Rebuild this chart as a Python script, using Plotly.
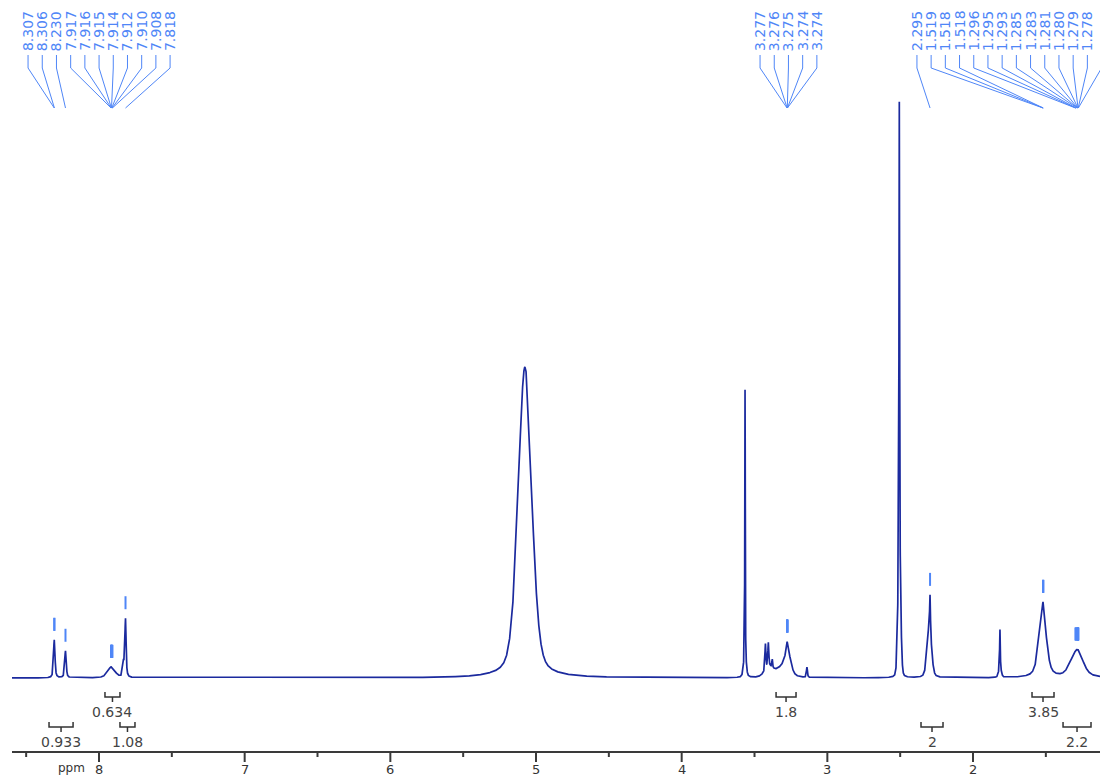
import numpy as np
import plotly.graph_objects as go

# ---- spectrum: resonance table (ppm, height, FWHM in ppm, Lorentzian fraction) ----
peak_ppm    = [8.307, 8.230, 7.915, 7.818, 7.832, 5.076, 3.565, 3.566, 3.425, 3.405,
               3.378, 3.400, 3.276, 3.272, 3.320, 3.140, 2.506, 2.506, 2.300, 2.295,
               1.815, 1.815, 1.522, 1.519, 1.282, 1.330]
peak_height = [38, 27, 11, 58, 14, 311, 270, 18, 26, 24,
               8, 10, 8, 25, 8, 10, 460, 116, 52, 34,
               38, 10, 68, 8, 27, 4]
peak_fwhm   = [0.012, 0.012, 0.060, 0.010, 0.012, 0.110, 0.004, 0.020, 0.008, 0.008,
               0.006, 0.070, 0.008, 0.050, 0.080, 0.008, 0.005, 0.022, 0.035, 0.006,
               0.005, 0.020, 0.060, 0.008, 0.090, 0.060]
peak_eta    = [0.6, 0.6, 0.5, 0.6, 0.5, 0.35, 0.5, 0.3, 0.5, 0.5,
               0.5, 0.3, 0.5, 0.5, 0.4, 0.5, 0.5, 0.1, 0.3, 0.5,
               0.5, 0.3, 0.5, 0.5, 0.6, 0.5]

# ---- picked peak labels, grouped as printed above the trace ----
pick_groups = [
    [8.307, 8.306, 8.230, 7.917, 7.916, 7.915, 7.914, 7.912, 7.910, 7.908, 7.818],
    [3.277, 3.276, 3.275, 3.274, 3.274],
    [2.295, 1.519, 1.518, 1.518, 1.296, 1.295, 1.293, 1.285, 1.283, 1.281,
     1.280, 1.279, 1.278, 1.277],
]
label_first_ppm = [8.487, 3.462, 2.385]
label_step_ppm = 0.0975

# ---- integrals ----
int_from  = [8.343, 7.959, 7.856, 3.352, 2.357, 1.595, 1.382]
int_to    = [8.178, 7.856, 7.753, 3.215, 2.206, 1.444, 1.190]
int_value = ["0.933", "0.634", "1.08", "1.8", "2", "3.85", "2.2"]
int_row   = [1, 0, 1, 0, 1, 0, 1]

# ---- ppm scale ----
x_left, x_right = 8.5972, 1.1283
major_ticks = [8, 7, 6, 5, 4, 3, 2]
minor_ticks = [8.5, 7.5, 6.5, 5.5, 4.5, 3.5, 2.5, 1.5]

TRACE = "#1b2a9e"
PICK = "#4f86f7"
INK = "#333333"
AXIS = "#3a3a3a"
FONT = "DejaVu Sans"


def pseudo_voigt(x, c, h, w, eta):
    d = (x - c) / w
    return h * (eta / (1 + 4 * d * d) + (1 - eta) * np.exp(-4 * np.log(2) * d * d))


x = np.union1d(np.arange(x_right, x_left, 0.0004), np.array(peak_ppm))
y = np.zeros_like(x)
for c, h, w, e in zip(peak_ppm, peak_height, peak_fwhm, peak_eta):
    y += pseudo_voigt(x, c, h, w, e)

fig = go.Figure()
fig.add_trace(go.Scatter(x=x, y=y, mode="lines", line=dict(color=TRACE, width=1.7),
                         hoverinfo="skip", showlegend=False))

# peak-pick ticks above each picked line, leader lines and labels
tick_x, tick_y = [], []
lead_x, lead_y = [], []
annotations = []
lab_bottom, kink, lead_end = 626, 610, 570
for g, group in enumerate(pick_groups):
    for i, p in enumerate(group):
        win = (x > p - 0.012) & (x < p + 0.012)
        top = y[win].max()
        tick_x += [p, p, None]
        tick_y += [top + 9, top + 22, None]
        lx = label_first_ppm[g] - i * label_step_ppm
        lead_x += [lx, lx, p, None]
        lead_y += [lab_bottom - 3, kink, lead_end, None]
        annotations.append(dict(x=lx, y=lab_bottom, xref="x", yref="y", text=f"{p:.3f}",
                                textangle=-90, showarrow=False, xanchor="center",
                                yanchor="bottom", borderpad=0,
                                font=dict(family=FONT, size=14, color=PICK)))

fig.add_trace(go.Scatter(x=tick_x, y=tick_y, mode="lines", line=dict(color=PICK, width=2),
                         hoverinfo="skip", showlegend=False))
fig.add_trace(go.Scatter(x=lead_x, y=lead_y, mode="lines", line=dict(color=PICK, width=1),
                         hoverinfo="skip", showlegend=False))

# integral brackets with their values
row_base = [-19, -49]
br_x, br_y = [], []
for a, b, v, r in zip(int_from, int_to, int_value, int_row):
    yb = row_base[r]
    mid = (a + b) / 2
    br_x += [a, a, b, b, None, mid, mid, None]
    br_y += [yb + 5, yb, yb, yb + 5, None, yb, yb - 5, None]
    annotations.append(dict(x=mid, y=yb - 15, xref="x", yref="y", text=v, showarrow=False,
                            xanchor="center", yanchor="middle",
                            font=dict(family=FONT, size=14, color="#444444")))
fig.add_trace(go.Scatter(x=br_x, y=br_y, mode="lines", line=dict(color=INK, width=1.5),
                         hoverinfo="skip", showlegend=False))

# ppm scale: baseline rule, long ticks on whole ppm, short ticks on half ppm
axis_y = -74
sc_x = [x_left, x_right, None]
sc_y = [axis_y, axis_y, None]
for t in major_ticks:
    sc_x += [t, t, None]
    sc_y += [axis_y, axis_y - 10, None]
for t in minor_ticks:
    sc_x += [t, t, None]
    sc_y += [axis_y, axis_y - 5, None]
fig.add_trace(go.Scatter(x=sc_x, y=sc_y, mode="lines", line=dict(color=AXIS, width=2),
                         hoverinfo="skip", showlegend=False))
for t in major_ticks:
    annotations.append(dict(x=t, y=axis_y - 17, xref="x", yref="y", text=str(t),
                            showarrow=False, xanchor="center", yanchor="middle",
                            font=dict(family=FONT, size=13, color=INK)))
annotations.append(dict(x=8.192, y=axis_y - 16, xref="x", yref="y", text="ppm",
                        showarrow=False, xanchor="center", yanchor="middle",
                        font=dict(family=FONT, size=12, color=INK)))

fig.update_layout(
    width=1100, height=778,
    margin=dict(l=12, r=0, t=0, b=0),
    paper_bgcolor="white", plot_bgcolor="white",
    annotations=annotations,
    xaxis=dict(range=[x_left, x_right], visible=False, fixedrange=True),
    yaxis=dict(range=[-100, 678], visible=False, fixedrange=True),
)

fig.write_html("out.html")
